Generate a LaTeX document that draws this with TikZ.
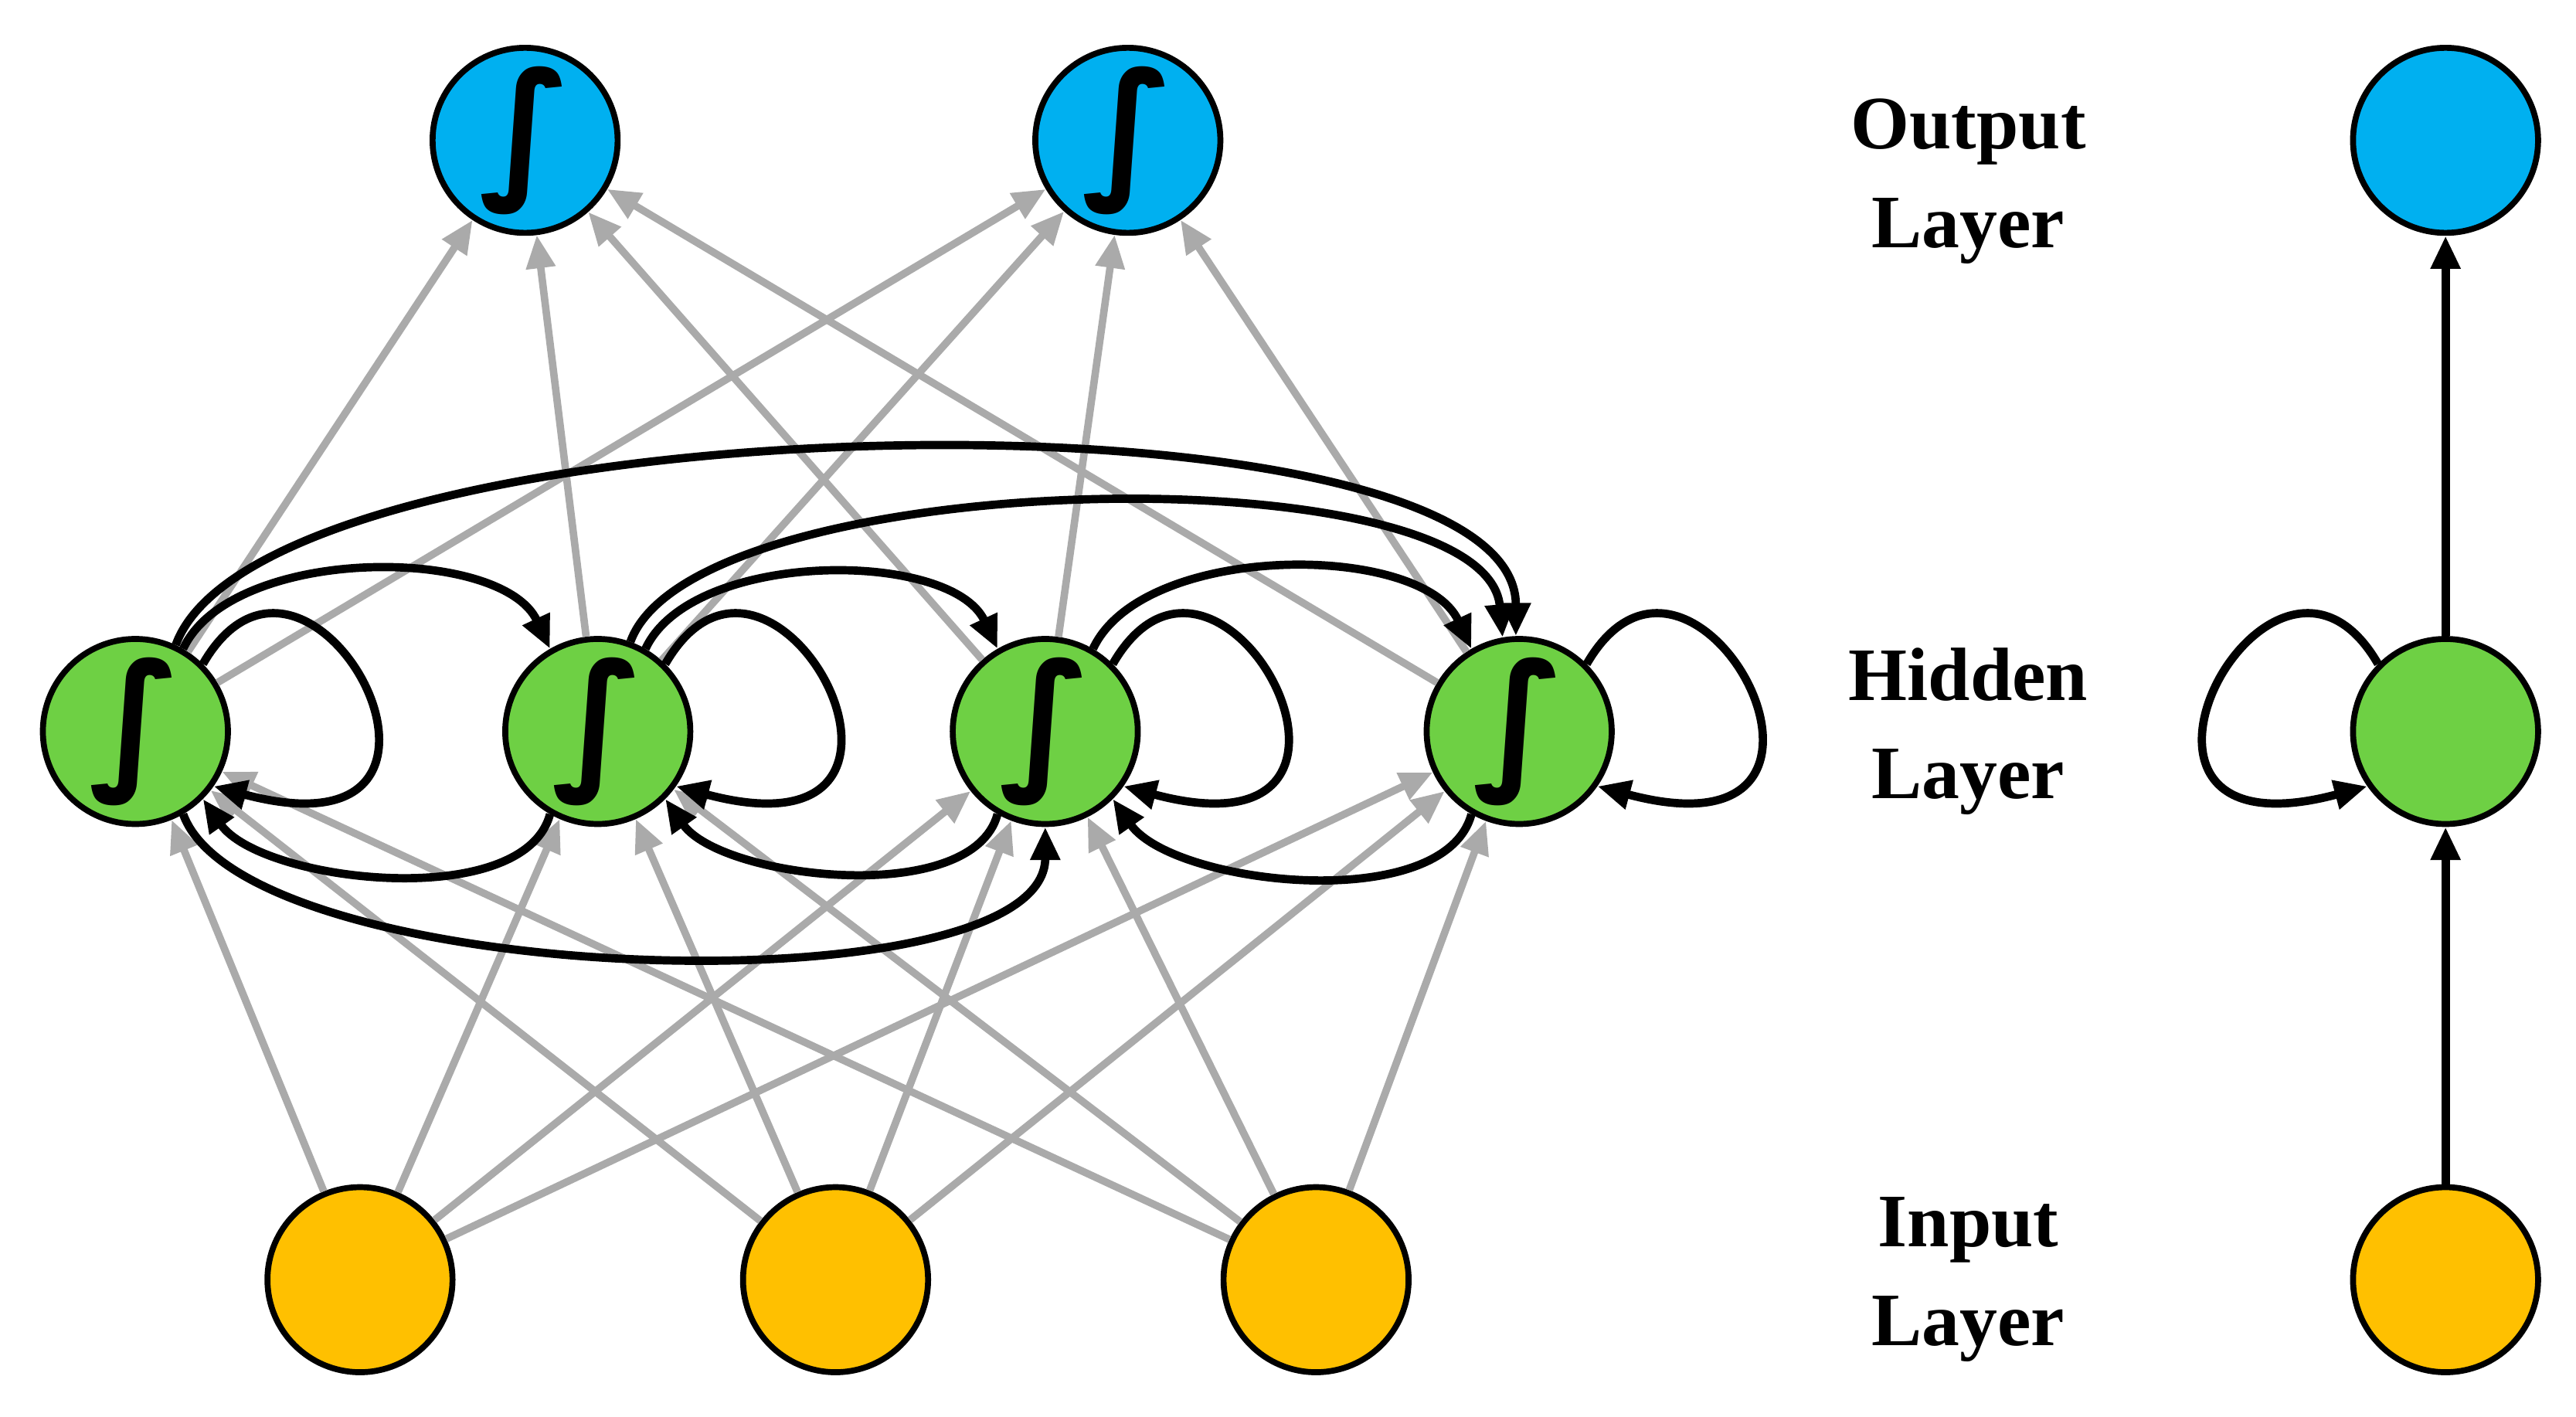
\documentclass[tikz,border=0pt]{standalone}
\usepackage{fontspec}
\setmainfont{Liberation Serif}
\newfontfamily\integfont{DejaVu Sans}
\usetikzlibrary{arrows.meta}
\begin{document}
\begin{tikzpicture}[x=0.01cm,y=0.01cm,
  neuron/.style={circle,draw=black,line width=0.036cm,minimum size=1.12cm,inner sep=0pt},
  outn/.style={neuron,fill={rgb,255:red,0;green,176;blue,240}},
  hidn/.style={neuron,fill={rgb,255:red,110;green,208;blue,68}},
  inn/.style={neuron,fill={rgb,255:red,255;green,192;blue,0}},
  gray arrow/.style={draw={rgb,255:red,170;green,170;blue,170},line width=0.045cm,-{Triangle[length=0.2cm,width=0.17cm]}},
  rec/.style={draw=black,line width=0.05cm,-{Triangle[length=0.2cm,width=0.17cm]}},
  lbl/.style={font=\fontsize{13}{17}\selectfont\bfseries,align=center},
  integ/.style={font=\integfont\fontsize{26}{26}\selectfont\bfseries\itshape}]
\useasboundingbox (0,0) rectangle (1560,858);
\node[outn] (o1) at (318,773) {};
\node[outn] (o2) at (683,773) {};
\node[hidn] (h1) at (82,415) {};
\node[hidn] (h2) at (362,415) {};
\node[hidn] (h3) at (633,415) {};
\node[hidn] (h4) at (920,415) {};
\node[inn] (i1) at (218,83) {};
\node[inn] (i2) at (506,83) {};
\node[inn] (i3) at (797,83) {};
\node[outn] (ro) at (1481,773) {};
\node[hidn] (rh) at (1481,415) {};
\node[inn] (ri) at (1481,83) {};
\foreach \n in {o1,o2,h1,h2,h3,h4}{\node[integ] at (\n) {∫};}
\node[lbl] (lo) at (1192,748) {Output\\Layer};
\node[lbl] (lh) at (1192,415) {Hidden\\Layer};
\node[lbl] (li) at (1192,83) {Input\\Layer};
% gray connections
\foreach \h in {h1,h2,h3,h4}{\foreach \o in {o1,o2}{\path[gray arrow] (\h) -- (\o);}}
\foreach \i in {i1,i2,i3}{\foreach \h in {h1,h2,h3,h4}{\path[gray arrow] (\i) -- (\h);}}
% recurrent forward (top)
\path[rec] (h1.60) to[out=65,in=115,looseness=0.8] (h2.120);
\path[rec] (h2.60) to[out=65,in=115,looseness=0.8] (h3.120);
\path[rec] (h3.60) to[out=65,in=115,looseness=0.8] (h4.120);
\path[rec] (h2.70) to[out=70,in=95,looseness=0.55] (h4.100);
\path[rec] (h1.65) to[out=70,in=90,looseness=0.5] (h4.92);
% backward (bottom)
\path[rec] (h2.-120) to[out=-105,in=-55,looseness=0.75] (h1.-45);
\path[rec] (h3.-120) to[out=-105,in=-55,looseness=0.75] (h2.-45);
\path[rec] (h4.-120) to[out=-105,in=-55,looseness=0.75] (h3.-45);
\path[rec] (h1.-60) to[out=-70,in=-90,looseness=0.55] (h3.-90);
% self loops
\foreach \h in {h1,h2,h3,h4}{
  \path[rec] (\h.45) .. controls +(60:130) and +(-15:190) .. (\h.-35);}
% right column
\path[rec] (ri) -- (rh);
\path[rec] (rh) -- (ro);
\path[rec] (rh.135) .. controls +(120:130) and +(195:190) .. (rh.-145);
\end{tikzpicture}
\end{document}
